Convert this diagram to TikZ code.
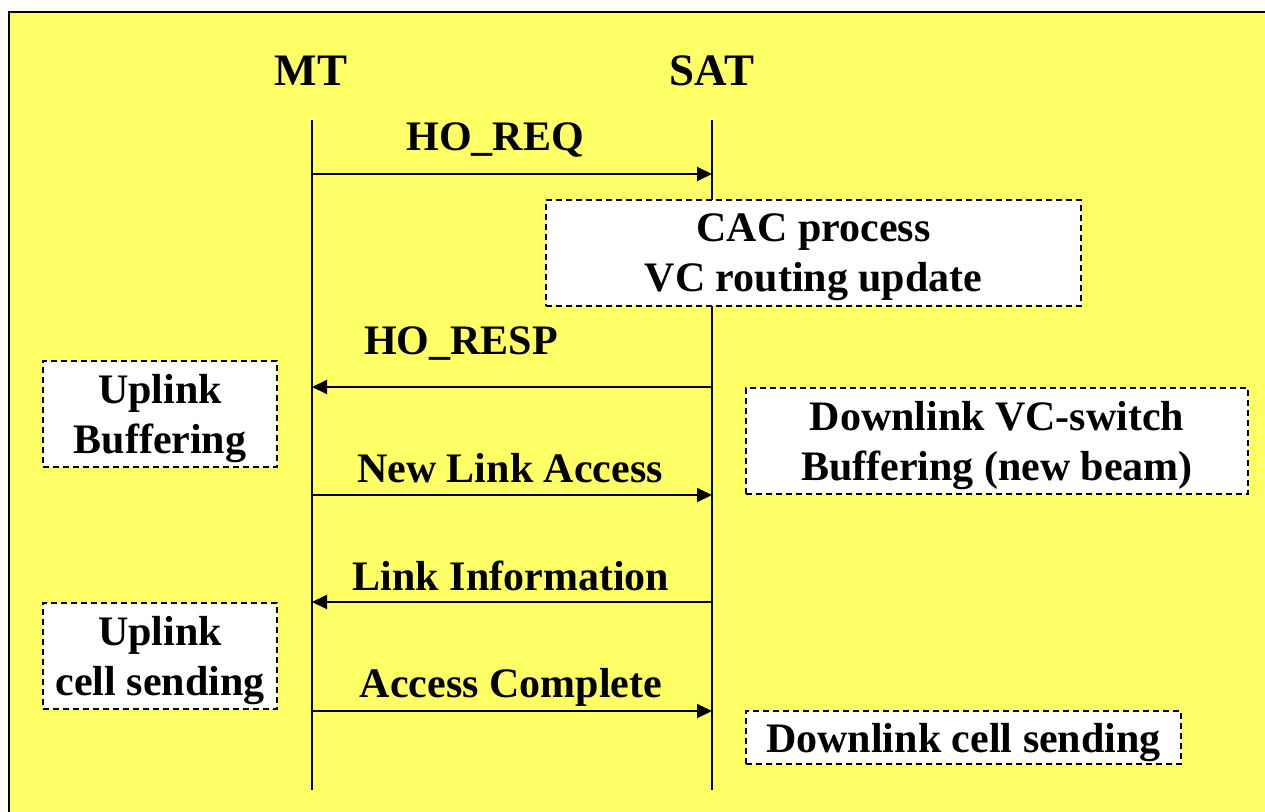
\documentclass[tikz,border=0pt]{standalone}
\usepackage{fontspec}
\setmainfont{Liberation Serif}
\usetikzlibrary{arrows.meta}
\definecolor{bgyellow}{RGB}{255,255,102}
\begin{document}
\begin{tikzpicture}[x=1pt,y=-1pt,
  lbl/.style={font=\fontsize{42}{50}\selectfont\bfseries, inner sep=0pt, anchor=base},
  hdr/.style={font=\fontsize{45}{54}\selectfont\bfseries, inner sep=0pt, anchor=base},
  life/.style={line width=2pt},
  msg/.style={line width=2pt, -{Triangle[length=15pt,width=14pt]}},
  dbox/.style={draw, dashed, dash pattern=on 6pt off 4pt, line width=2pt, fill=white,
     font=\fontsize{42}{50}\selectfont\bfseries, align=center, inner sep=0pt, text depth=0pt}]
\useasboundingbox (0,0) rectangle (1265,811);
\draw[line width=2.5pt, fill=bgyellow] (9,12) rectangle (1275,821);
% headers
\node[hdr] (mt) at (311,85) {MT};
\node[hdr] (sat) at (712,85) {SAT};
% lifelines
\coordinate (mtA) at (312,120);
\coordinate (mtZ) at (312,790);
\coordinate (satA) at (712,120);
\coordinate (satZ) at (712,790);
\draw[life] (mtA) -- (mtZ);
\draw[life] (satA) -- (satZ);
% message points
\coordinate (m1) at (312,174); \coordinate (s1) at (712,174);
\coordinate (m2) at (312,387); \coordinate (s2) at (712,387);
\coordinate (m3) at (312,495); \coordinate (s3) at (712,495);
\coordinate (m4) at (312,602); \coordinate (s4) at (712,602);
\coordinate (m5) at (312,711); \coordinate (s5) at (712,711);
\draw[msg] (m1) -- (s1);
\draw[msg] (s2) -- (m2);
\draw[msg] (m3) -- (s3);
\draw[msg] (s4) -- (m4);
\draw[msg] (m5) -- (s5);
% labels
\node[lbl] (l1) at (495,150) {HO\_REQ};
\node[lbl] (l2) at (461,354) {HO\_RESP};
\node[lbl] (l3) at (510,482) {New Link Access};
\node[lbl] (l4) at (511,590) {Link Information};
\node[lbl] (l5) at (511,697) {Access Complete};
% boxes
\node[dbox, minimum width=535pt, minimum height=106pt] (cac) at (813.5,253) {CAC process\\VC routing update};
\node[dbox, minimum width=234pt, minimum height=106pt] (ub) at (160,414) {Uplink\\Buffering};
\node[dbox, minimum width=502pt, minimum height=106pt] (dvc) at (997,441) {Downlink VC-switch\\Buffering (new beam)};
\node[dbox, minimum width=234pt, minimum height=106pt] (ucs) at (160,656) {Uplink\\cell sending};
\node[dbox, minimum width=435pt, minimum height=53pt] (dcs) at (963.5,737.5) {Downlink cell sending};
\end{tikzpicture}
\end{document}
